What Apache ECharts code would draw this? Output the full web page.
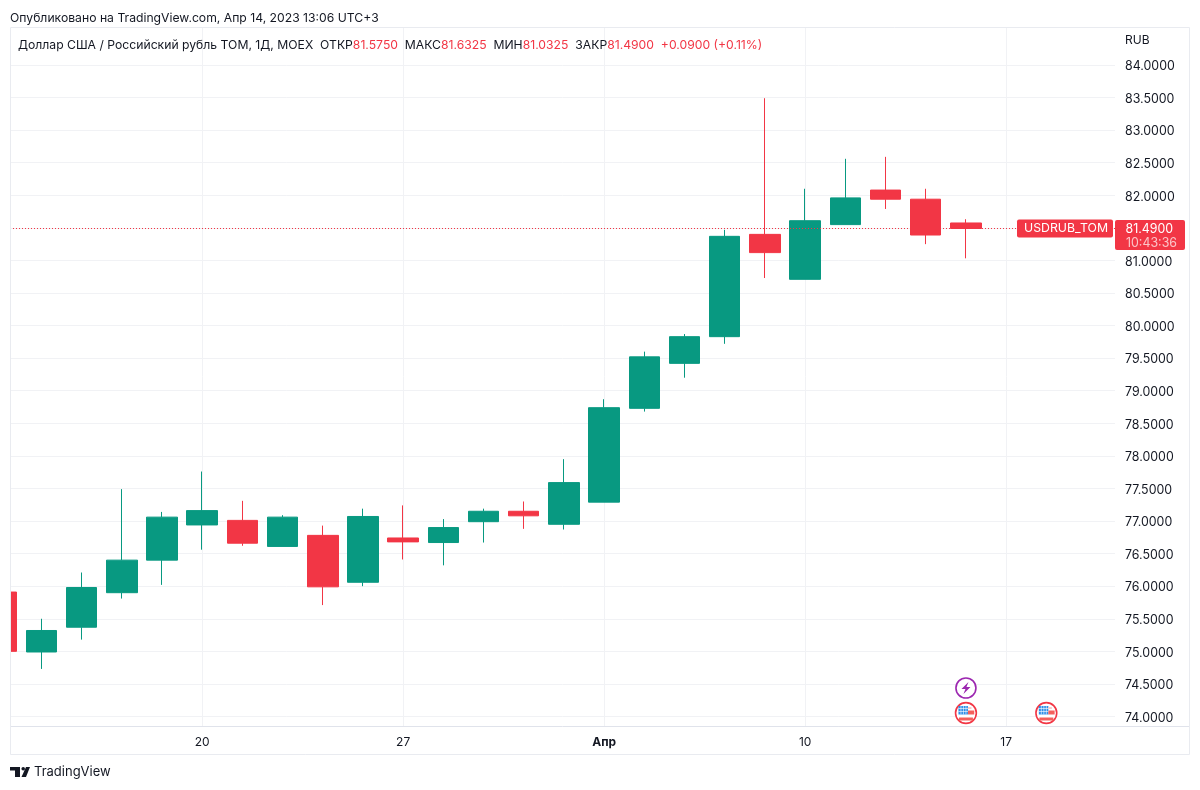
<!DOCTYPE html>
<html>
<head>
<meta charset="utf-8">
<title>USDRUB_TOM</title>
<style>
html,body{margin:0;padding:0;background:#fff}
#main{width:1200px;height:790px}
</style>
<script src="https://cdn.jsdelivr.net/npm/echarts@6/dist/echarts.min.js"></script>
</head>
<body>
<div id="main"></div>
<script>
// trading days, Mar 13 .. Apr 14 2023
var dates = ['03-13','03-14','03-15','03-16','03-17','03-20','03-21','03-22','03-23','03-24','03-27','03-28','03-29','03-30','03-31','04-03','04-04','04-05','04-06','04-07','04-10','04-11','04-12','04-13','04-14'];
var opens = [75.91,74.99,75.37,75.90,76.40,76.94,77.01,76.61,76.78,76.06,76.74,76.67,76.99,77.15,76.95,77.29,78.73,79.42,79.83,81.40,80.71,81.55,82.08,81.94,81.575];
var closes = [75.00,75.32,75.98,76.40,77.06,77.16,76.66,77.06,75.99,77.07,76.68,76.90,77.15,77.08,77.59,78.74,79.52,79.83,81.37,81.12,81.61,81.96,81.94,81.39,81.49];
var lows = [75.00,74.73,75.18,75.81,76.02,76.56,76.62,76.61,75.71,76.00,76.41,76.32,76.67,76.88,76.87,77.29,78.68,79.20,79.72,80.73,80.71,81.55,81.79,81.25,81.0325];
var highs = [75.95,75.50,76.21,77.49,77.14,77.76,77.31,77.09,76.93,77.19,77.24,77.03,77.19,77.30,77.95,78.87,79.60,79.87,81.47,83.49,82.10,82.56,82.59,82.10,81.6325];
var priceTicks = [74,74.5,75,75.5,76,76.5,77,77.5,78,78.5,79,79.5,80,80.5,81,81.5,82,82.5,83,83.5,84];
var dateTicks = [5,10,15,20,25];
var dateTickLabels = ['20','27','Апр','10','17'];
var flagDays = [24,26];
var boltDays = [24];
var lastPrice = 81.49;

var UP = '#089981', DOWN = '#f23645', TEXT = '#131722', GRID = '#f1f2f5', EDGE = '#e0e3eb';
var FONT = 'Inter, "Noto Sans", sans-serif';

var candles = [];
for (var i = 0; i < dates.length; i++) {
	candles.push([i, opens[i], closes[i], lows[i], highs[i]]);
}

var chart = echarts.init(document.getElementById('main'));
var option = {
	animation: false,
	backgroundColor: '#fff',
	textStyle: {fontFamily: FONT},
	title: [{
		text: 'Опубликовано на TradingView.com, Апр 14, 2023 13:06 UTC+3',
		left: 10, top: 12, padding: 0,
		textStyle: {fontFamily: FONT, fontSize: 12.2, fontWeight: 400, color: TEXT}
	}, {
		text: 'Доллар США / Российский рубль ТОМ, 1Д, MOEX  ОТКР{r|81.5750}  МАКС{r|81.6325}  МИН{r|81.0325}  ЗАКР{r|81.4900}  {r|+0.0900 (+0.11%)}',
		left: 18, top: 39, padding: 0,
		textStyle: {
			fontFamily: FONT, fontSize: 12.2, fontWeight: 400, color: TEXT,
			rich: {r: {fontFamily: FONT, fontSize: 12.2, color: DOWN}}
		}
	}],
	grid: {left: 10, right: 85, top: 27, bottom: 64, show: false},
	xAxis: {
		type: 'value',
		min: 0.22,
		max: 27.708,
		axisLine: {show: true, onZero: false, lineStyle: {color: EDGE, width: 1}},
		axisTick: {show: false, customValues: dateTicks},
		splitLine: {show: true, lineStyle: {color: GRID, width: 1}},
		axisLabel: {
			customValues: dateTicks,
			margin: 10,
			fontFamily: FONT,
			fontSize: 12,
			color: TEXT,
			formatter: function(v) {
				var label = dateTickLabels[dateTicks.indexOf(v)];
				return label == 'Апр' ? '{b|' + label + '}' : label;
			},
			rich: {b: {fontFamily: FONT, fontSize: 12, fontWeight: 700, color: TEXT}}
		}
	},
	yAxis: {
		type: 'value',
		position: 'right',
		scale: true,
		min: 73.854,
		max: 84.583,
		axisLine: {show: false},
		axisTick: {show: false, customValues: priceTicks},
		splitLine: {show: true, lineStyle: {color: GRID, width: 1}},
		axisLabel: {
			customValues: priceTicks,
			margin: 10,
			formatter: function(v) {
				return '{p|' + v.toFixed(4) + '}';
			},
			rich: {p: {fontFamily: FONT, fontSize: 12.4, color: TEXT, padding: [3, 0, 0, 0]}}
		}
	},
	series: [{
		type: 'candlestick',
		barWidth: 31,
		clip: true,
		data: candles,
		itemStyle: {
			color: UP,
			color0: DOWN,
			borderColor: UP,
			borderColor0: DOWN,
			borderWidth: 1
		},
		markLine: {
			silent: true,
			symbol: 'none',
			label: {show: false},
			lineStyle: {color: DOWN, type: [1, 2], width: 1},
			data: [{yAxis: lastPrice}]
		}
	}]
};
chart.setOption(option);

function flagIcon(cx, cy) {
	var parts = [
		{type: 'circle', shape: {r: 10.4}, style: {fill: '#fff', stroke: DOWN, lineWidth: 1.6}},
		{type: 'rect', shape: {x: -7.5, y: -7, width: 9.5, height: 8.5}, style: {fill: '#2e8fe8'}},
		{type: 'rect', shape: {x: 2, y: -2.5, width: 6.3, height: 4}, style: {fill: '#f4605c'}},
		{type: 'rect', shape: {x: 2, y: -6, width: 3.5, height: 2}, style: {fill: '#f9c9c7'}},
		{type: 'rect', shape: {x: -7, y: 4.5, width: 14, height: 3}, style: {fill: '#f4605c'}}
	];
	// клетки на флаге
	[-5, -2.5, 0].forEach(function(dx) {
		parts.push({type: 'line', shape: {x1: dx, y1: -7, x2: dx, y2: 1.5}, style: {stroke: '#fff', lineWidth: 0.6}});
	});
	[-4.5, -1.5].forEach(function(dy) {
		parts.push({type: 'line', shape: {x1: -7.5, y1: dy, x2: 2, y2: dy}, style: {stroke: '#fff', lineWidth: 0.6}});
	});
	return {type: 'group', x: cx, y: cy, children: parts};
}
function boltIcon(cx, cy) {
	return {
		type: 'group', x: cx, y: cy,
		children: [
			{type: 'circle', shape: {r: 10}, style: {fill: '#fff', stroke: '#9c27b0', lineWidth: 1.6}},
			{type: 'polygon', shape: {points: [[2.5,-6],[-4.5,1],[-0.5,1],[-2.5,6],[4.5,-1],[0.5,-1]]}, style: {fill: '#9c27b0'}}
		]
	};
}

function drawExtras() {
	var y = chart.convertToPixel({yAxisIndex: 0}, lastPrice);
	var items = [
		// прячем часть первой свечи левее области графика
		{type: 'rect', silent: true, shape: {x: 0, y: 27, width: 10, height: 700}, style: {fill: '#fff'}},
		{type: 'rect', silent: true, shape: {x: 10.5, y: 27.5, width: 1179, height: 727}, style: {fill: 'none', stroke: '#e9ebf0', lineWidth: 1}},
		{type: 'line', silent: true, shape: {x1: 1115, y1: 726.5, x2: 1189, y2: 726.5}, style: {stroke: EDGE, lineWidth: 1}},
		{type: 'text', style: {x: 1125, y: 40, text: 'RUB', fill: TEXT, font: '12px ' + FONT, textVerticalAlign: 'middle'}},
		{type: 'rect', shape: {x: 1017, y: y - 9, width: 96, height: 18, r: 2}, style: {fill: DOWN}},
		{type: 'text', style: {x: 1066, y: y, text: 'USDRUB_TOM', fill: '#fff', font: '12.3px ' + FONT, textAlign: 'center', textVerticalAlign: 'middle'}},
		{type: 'rect', shape: {x: 1115, y: y - 8.5, width: 70, height: 30, r: 2}, style: {fill: DOWN}},
		{type: 'text', style: {x: 1125.5, y: y + 0.5, text: lastPrice.toFixed(4), fill: '#fff', font: '12.4px ' + FONT, textVerticalAlign: 'middle'}},
		{type: 'text', style: {x: 1126, y: y + 14.5, text: '10:43:36', fill: '#fbc4c8', font: '12.4px ' + FONT, textVerticalAlign: 'middle'}},
		// логотип
		{type: 'polygon', shape: {points: [[10,767],[20,767],[20,777],[15,777],[15,770.5],[10,770.5]]}, style: {fill: TEXT}},
		{type: 'circle', shape: {cx: 23.2, cy: 768.8, r: 1.8}, style: {fill: TEXT}},
		{type: 'polygon', shape: {points: [[26,767],[30,767],[26,777],[21.5,777]]}, style: {fill: TEXT}},
		{type: 'text', style: {x: 34, y: 772, text: 'TradingView', fill: TEXT, font: '13px ' + FONT, textVerticalAlign: 'middle'}}
	];
	flagDays.forEach(function(d) {
		items.push(flagIcon(chart.convertToPixel({xAxisIndex: 0}, d), 713));
	});
	boltDays.forEach(function(d) {
		items.push(boltIcon(chart.convertToPixel({xAxisIndex: 0}, d), 688));
	});
	items.forEach(function(it) {
		it.z = 20;
	});
	chart.setOption({graphic: items});
}
drawExtras();
window.onresize = function() {
	chart.resize();
};
</script>
</body>
</html>
